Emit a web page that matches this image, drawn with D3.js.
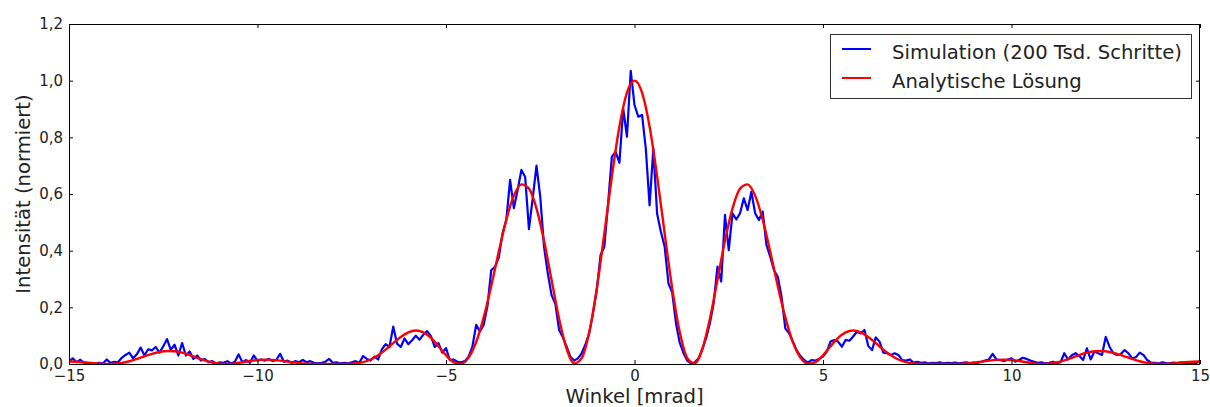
<!DOCTYPE html>
<html>
<head>
<meta charset="utf-8">
<script src="https://cdn.jsdelivr.net/npm/d3@7"></script>
<style>
  html, body { margin: 0; padding: 0; background: #fff; }
  svg { display: block; font-family: "DejaVu Sans", sans-serif; }
</style>
</head>
<body>
<svg id="chart" width="1210" height="407"></svg>
<script>
// Angle grid (mrad): both series start at -15 and run in fixed steps to +15
const angleStart = -15;
const simStep = 0.1;   // histogram bin width of the simulation
const refStep = 0.2;   // sampling of the analytic curve

// Normalised intensity from the Monte-Carlo simulation (200k steps), -15 ... +15 mrad
const simulation = [
  0.008, 0.020, 0.006, 0.015, 0.004, 0.002, 0.003, 0.001, 0.004, 0.002,
  0.016, 0.004, 0.008, 0.006, 0.022, 0.032, 0.040, 0.020, 0.034, 0.058,
  0.030, 0.052, 0.048, 0.060, 0.040, 0.062, 0.088, 0.050, 0.068, 0.030,
  0.074, 0.030, 0.044, 0.018, 0.030, 0.012, 0.018, 0.006, 0.010, 0.002,
  0.006, 0.004, 0.010, 0.002, 0.008, 0.034, 0.006, 0.014, 0.004, 0.030,
  0.012, 0.016, 0.012, 0.018, 0.010, 0.014, 0.036, 0.008, 0.012, 0.004,
  0.010, 0.006, 0.014, 0.006, 0.010, 0.004, 0.002, 0.004, 0.008, 0.018,
  0.004, 0.006, 0.002, 0.004, 0.002, 0.006, 0.010, 0.004, 0.028, 0.018,
  0.012, 0.026, 0.016, 0.052, 0.070, 0.060, 0.132, 0.072, 0.060, 0.090,
  0.070, 0.084, 0.100, 0.086, 0.104, 0.116, 0.098, 0.060, 0.074, 0.040,
  0.056, 0.014, 0.016, 0.008, 0.006, 0.010, 0.026, 0.061, 0.138, 0.115,
  0.138, 0.205, 0.331, 0.343, 0.376, 0.461, 0.508, 0.650, 0.550, 0.614,
  0.685, 0.660, 0.476, 0.585, 0.700, 0.590, 0.414, 0.320, 0.243, 0.212,
  0.120, 0.094, 0.061, 0.026, 0.012, 0.020, 0.038, 0.070, 0.108, 0.179,
  0.261, 0.385, 0.414, 0.567, 0.732, 0.749, 0.710, 0.902, 0.802, 1.035,
  0.914, 0.873, 0.879, 0.760, 0.560, 0.760, 0.530, 0.467, 0.414, 0.285,
  0.252, 0.144, 0.075, 0.038, 0.012, 0.002, 0.006, 0.020, 0.052, 0.091,
  0.144, 0.214, 0.344, 0.291, 0.526, 0.402, 0.532, 0.510, 0.532, 0.585,
  0.543, 0.608, 0.532, 0.508, 0.538, 0.420, 0.379, 0.331, 0.308, 0.238,
  0.126, 0.108, 0.079, 0.049, 0.028, 0.014, 0.005, 0.014, 0.012, 0.019,
  0.026, 0.044, 0.079, 0.085, 0.079, 0.061, 0.085, 0.082, 0.097, 0.114,
  0.108, 0.120, 0.064, 0.049, 0.094, 0.079, 0.040, 0.038, 0.032, 0.038,
  0.032, 0.014, 0.012, 0.016, 0.005, 0.008, 0.004, 0.006, 0.002, 0.004,
  0.003, 0.006, 0.002, 0.004, 0.003, 0.005, 0.002, 0.004, 0.006, 0.003,
  0.005, 0.004, 0.008, 0.012, 0.016, 0.036, 0.016, 0.014, 0.010, 0.016,
  0.020, 0.008, 0.014, 0.022, 0.018, 0.012, 0.008, 0.004, 0.006, 0.002,
  0.004, 0.008, 0.003, 0.006, 0.038, 0.016, 0.031, 0.038, 0.028, 0.014,
  0.055, 0.016, 0.044, 0.038, 0.032, 0.096, 0.061, 0.038, 0.032, 0.035,
  0.049, 0.038, 0.020, 0.024, 0.040, 0.032, 0.014, 0.005, 0.004, 0.002,
  0.006, 0.003, 0.002, 0.005, 0.003, 0.006, 0.004, 0.002, 0.005, 0.003,
  0.012
];

// Analytic double-slit intensity, -15 ... +15 mrad
const analytic = [
  0.0088, 0.0081, 0.0063, 0.0038, 0.0014, 0.0001, 0.0007, 0.0039, 0.0098, 0.0179,
  0.0271, 0.0359, 0.0425, 0.0458, 0.0448, 0.0399, 0.0317, 0.0220, 0.0127, 0.0053,
  0.0010, 0.0001, 0.0022, 0.0062, 0.0106, 0.0139, 0.0153, 0.0145, 0.0119, 0.0084,
  0.0048, 0.0021, 0.0005, 0.0000, 0.0001, 0.0001, 0.0000, 0.0002, 0.0019, 0.0066,
  0.0160, 0.0309, 0.0508, 0.0736, 0.0955, 0.1118, 0.1182, 0.1116, 0.0918, 0.0625,
  0.0308, 0.0066, 0.0008, 0.0227, 0.0775, 0.1644, 0.2756, 0.3968, 0.5096, 0.5942,
  0.6340, 0.6191, 0.5493, 0.4350, 0.2964, 0.1599, 0.0538, 0.0023, 0.0209, 0.1126,
  0.2668, 0.4605, 0.6623, 0.8381, 0.9577,
  1.0000,
  0.9577, 0.8381, 0.6623, 0.4605, 0.2668, 0.1126, 0.0209, 0.0023, 0.0538, 0.1599,
  0.2964, 0.4350, 0.5493, 0.6191, 0.6340, 0.5942, 0.5096, 0.3968, 0.2756, 0.1644,
  0.0775, 0.0227, 0.0008, 0.0066, 0.0308, 0.0625, 0.0918, 0.1116, 0.1182, 0.1118,
  0.0955, 0.0736, 0.0508, 0.0309, 0.0160, 0.0066, 0.0019, 0.0002, 0.0000, 0.0001,
  0.0001, 0.0000, 0.0005, 0.0021, 0.0048, 0.0084, 0.0119, 0.0145, 0.0153, 0.0139,
  0.0106, 0.0062, 0.0022, 0.0001, 0.0010, 0.0053, 0.0127, 0.0220, 0.0317, 0.0399,
  0.0448, 0.0458, 0.0425, 0.0359, 0.0271, 0.0179, 0.0098, 0.0039, 0.0007, 0.0001,
  0.0014, 0.0038, 0.0063, 0.0081, 0.0088
];

const xTicks = [-15, -10, -5, 0, 5, 10, 15];
const yTicks = [0, 0.2, 0.4, 0.6, 0.8, 1.0, 1.2];
const seriesNames = ["Simulation (200 Tsd. Schritte)", "Analytische Lösung"];
const xTitle = "Winkel [mrad]";
const yTitle = "Intensität (normiert)";

// ---- layout ----
const plot = { left: 69, right: 1200, top: 24, bottom: 364 };
const colors = { sim: "#0000ff", ref: "#ff0000" };
const labelSize = 19.6;

const svg = d3.select("#chart");

const x = d3.scaleLinear().domain([-15, 15]).range([plot.left, plot.right]);
const y = d3.scaleLinear().domain([0, 1.2]).range([plot.bottom, plot.top]);

// German number format: decimal comma, typographic minus
const de = d3.formatLocale({ decimal: ",", thousands: ".", grouping: [3], currency: ["", " €"], minus: "\u2212" });
const fmtY = de.format(".1f");
const fmtX = de.format("d");

const simPoints = simulation.map((v, i) => [angleStart + i * simStep, v]);
const refPoints = analytic.map((v, i) => [angleStart + i * refStep, v]);

svg.append("rect").attr("width", 1210).attr("height", 407).attr("fill", "#fff");

svg.append("defs").append("clipPath").attr("id", "plot-clip")
  .append("rect")
  .attr("x", plot.left).attr("y", plot.top - 2)
  .attr("width", plot.right - plot.left).attr("height", plot.bottom - plot.top + 2);

// ---- curves ----
const lines = svg.append("g").attr("clip-path", "url(#plot-clip)");

lines.append("path")
  .datum(simPoints)
  .attr("fill", "none")
  .attr("stroke", colors.sim)
  .attr("stroke-width", 2.2)
  .attr("stroke-linejoin", "round")
  .attr("d", d3.line().x(d => x(d[0])).y(d => y(d[1])));

lines.append("path")
  .datum(refPoints)
  .attr("fill", "none")
  .attr("stroke", colors.ref)
  .attr("stroke-width", 2.4)
  .attr("stroke-linejoin", "round")
  .attr("d", d3.line().curve(d3.curveMonotoneX).x(d => x(d[0])).y(d => y(d[1])));

// ---- axes (ticks point inwards on all four sides) ----
const tickLen = 4;
function styleAxis(g) {
  g.select(".domain").remove();
  g.selectAll(".tick line").attr("stroke", "#000").attr("stroke-width", 1);
  g.selectAll(".tick text").attr("fill", "#222").attr("font-size", 15)
    .attr("font-family", "DejaVu Sans, sans-serif");
}

svg.append("g")
  .attr("transform", `translate(0,${plot.bottom})`)
  .call(d3.axisBottom(x).tickValues(xTicks).tickFormat(fmtX)
    .tickSizeInner(-tickLen).tickSizeOuter(0).tickPadding(6))
  .call(styleAxis);

svg.append("g")
  .attr("transform", `translate(0,${plot.top})`)
  .call(d3.axisTop(x).tickValues(xTicks).tickFormat("")
    .tickSizeInner(-tickLen).tickSizeOuter(0))
  .call(styleAxis);

svg.append("g")
  .attr("transform", `translate(${plot.left},0)`)
  .call(d3.axisLeft(y).tickValues(yTicks).tickFormat(fmtY)
    .tickSizeInner(-tickLen).tickSizeOuter(0).tickPadding(6))
  .call(styleAxis);

svg.append("g")
  .attr("transform", `translate(${plot.right},0)`)
  .call(d3.axisRight(y).tickValues(yTicks).tickFormat("")
    .tickSizeInner(-tickLen).tickSizeOuter(0))
  .call(styleAxis);

// frame
svg.append("rect")
  .attr("x", plot.left + 0.5).attr("y", plot.top + 0.5)
  .attr("width", plot.right - plot.left - 1).attr("height", plot.bottom - plot.top)
  .attr("fill", "none").attr("stroke", "#000").attr("stroke-width", 1);

// ---- axis titles ----
svg.append("text")
  .attr("x", (plot.left + plot.right) / 2).attr("y", 403)
  .attr("text-anchor", "middle").attr("font-size", labelSize).attr("fill", "#222")
  .text(xTitle);

svg.append("text")
  .attr("transform", `translate(30,${(plot.top + plot.bottom) / 2}) rotate(-90)`)
  .attr("text-anchor", "middle").attr("font-size", labelSize).attr("fill", "#222")
  .text(yTitle);

// ---- legend ----
const legend = svg.append("g").attr("transform", "translate(830,34)");
legend.append("rect")
  .attr("x", 0.5).attr("y", 0.5).attr("width", 361).attr("height", 64)
  .attr("fill", "#fff").attr("stroke", "#333").attr("stroke-width", 1);

const legendRows = [
  { name: seriesNames[0], color: colors.sim, y: 15 },
  { name: seriesNames[1], color: colors.ref, y: 44 }
];
legendRows.forEach(r => {
  legend.append("line")
    .attr("x1", 12).attr("x2", 41).attr("y1", r.y).attr("y2", r.y)
    .attr("stroke", r.color).attr("stroke-width", 2);
  legend.append("text")
    .attr("x", 62).attr("y", r.y + 9.5)
    .attr("font-size", labelSize).attr("fill", "#222")
    .text(r.name);
});
</script>
</body>
</html>
